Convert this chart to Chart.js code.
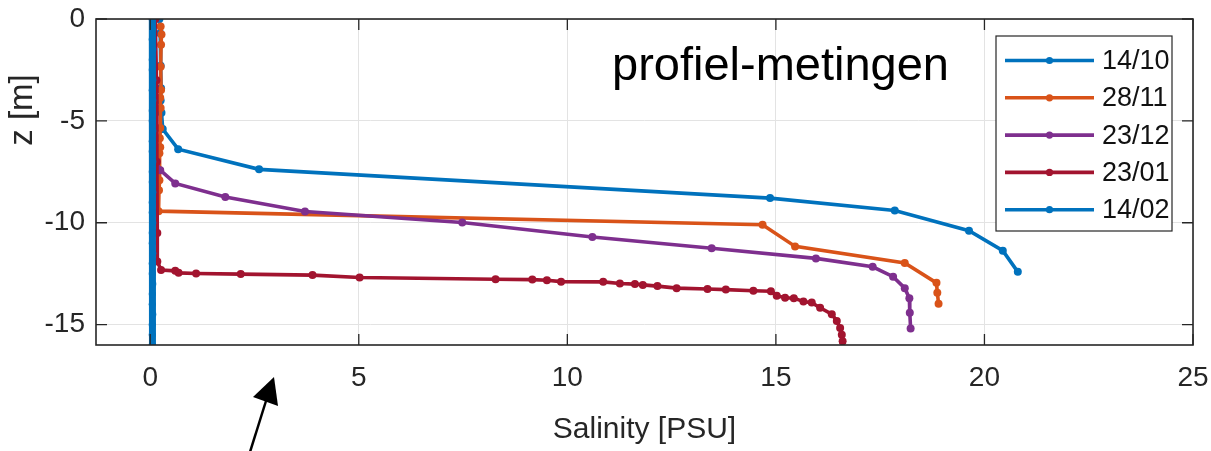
<!DOCTYPE html>
<html>
<head>
<meta charset="utf-8">
<title>Salinity profiles</title>
<script src="https://cdn.jsdelivr.net/npm/chart.js@4.4.1/dist/chart.umd.min.js"></script>
<style>
    html, body { margin: 0; padding: 0; background: #fff; }
    #wrap { width: 1211px; height: 451px; }
</style>
</head>
<body>
<div id="wrap"><canvas id="salinityChart" width="1211" height="451"></canvas></div>
<script>
/* ============================
   Salinity profiles (profiel-metingen)
   ============================ */

// ==================== DATA ====================
const seriesLabels = ['14/10', '28/11', '23/12', '23/01', '14/02'];
const seriesColors = ['#0072BD', '#D95319', '#7E2F8E', '#A2142F', '#0072BD'];

// 14/10
const salinity1410 = [0.22, 0.24, 0.25, 0.26, 0.25, 0.27, 0.30, 0.67, 2.61, 14.86, 17.85, 19.63, 20.44, 20.80];
const depth1410 = [0, -0.7, -2.3, -3.4, -4.0, -4.6, -5.4, -6.39, -7.38, -8.79, -9.40, -10.39, -11.37, -12.41];

// 28/11
const salinity2811 = [0.25, 0.27, 0.26, 0.25, 0.26, 0.24, 0.25, 0.24, 0.23, 0.24, 0.22, 0.23, 0.22, 0.21, 0.20,
    14.68, 15.46, 18.09, 18.85, 18.87, 18.90];
const depth2811 = [-0.37, -0.76, -1.26, -2.34, -3.48, -3.87, -4.37, -5.35, -5.85, -6.29, -6.59, -7.42, -7.92, -8.41, -9.43,
    -10.10, -11.16, -11.98, -12.95, -13.43, -13.97];

// 23/12
const salinity2312 = [0.06, 0.08, 0.24, 0.60, 1.80, 3.71, 7.48, 10.60, 13.46, 15.96, 17.32, 17.81, 18.09, 18.20, 18.21, 18.23];
const depth2312 = [0, -6.8, -7.42, -8.07, -8.74, -9.45, -9.99, -10.70, -11.25, -11.75, -12.16, -12.65, -13.21, -13.70, -14.42, -15.19];

// 23/01
const salinity2301 = [0.12, 0.15, 0.16, 0.17, 0.17, 0.26, 0.60, 0.68, 1.10, 2.17, 3.89, 5.02, 8.28, 9.16, 9.51, 9.85,
    10.86, 11.26, 11.62, 11.81, 12.16, 12.62, 13.36, 13.80, 14.46, 14.88, 15.02, 15.22, 15.43, 15.66, 15.86,
    16.06, 16.34, 16.46, 16.54, 16.58, 16.60];
const depth2301 = [0, -3.0, -7.0, -10.5, -11.9, -12.32, -12.36, -12.46, -12.49, -12.52, -12.57, -12.69, -12.77, -12.79, -12.82, -12.89,
    -12.90, -12.98, -13.01, -13.05, -13.11, -13.21, -13.25, -13.28, -13.34, -13.36, -13.58, -13.68, -13.70, -13.87, -13.92,
    -14.17, -14.49, -14.82, -15.16, -15.50, -15.82];

// 14/02
const salinity1402 = [0.05, 0.06, 0.05, 0.06, 0.05, 0.05, 0.06, 0.05, 0.06, 0.05, 0.05, 0.06, 0.05, 0.05, 0.06, 0.05,
    0.05, 0.06, 0.05, 0.05, 0.06, 0.05, 0.05, 0.06, 0.05, 0.05, 0.06, 0.05, 0.05, 0.06, 0.05, 0.05, 0.05];
const depth1402 = [0, -0.5, -1.0, -1.5, -2.0, -2.5, -3.0, -3.5, -4.0, -4.5, -5.0, -5.5, -6.0, -6.5, -7.0, -7.5,
    -8.0, -8.5, -9.0, -9.5, -10.0, -10.5, -11.0, -11.5, -12.0, -12.5, -13.0, -13.5, -14.0, -14.5, -15.0, -15.5, -16.0];

const xTicks = [0, 5, 10, 15, 20, 25];
const yTicks = [0, -5, -10, -15];
const xTitle = 'Salinity [PSU]';
const yTitle = 'z [m]';
const noteText = 'profiel-metingen';

// ==================== HELPERS ====================
const FONT = "'Liberation Sans', Arial, Helvetica, sans-serif";
const AXIS_COLOR = '#262626';
const NO_COLOR = 'rgba(0,0,0,0)';

function toPoints(xs, ys) {
    return xs.map((x, i) => ({ x: x, y: ys[i] }));
}

function makeDataset(idx, xs, ys, extra) {
    return Object.assign({
        label: seriesLabels[idx],
        data: toPoints(xs, ys),
        showLine: true,
        borderColor: seriesColors[idx],
        backgroundColor: seriesColors[idx],
        borderWidth: 3.6,
        pointRadius: 4,
        pointBorderWidth: 0,
        pointBackgroundColor: seriesColors[idx],
        tension: 0,
        order: 5 - idx
    }, extra || {});
}

// ==================== PLUGINS ====================
// frame + inward ticks on all four sides (matlab style box)
const frameTicksPlugin = {
    id: 'frameTicks',
    afterDatasetsDraw(chart) {
        const { ctx, chartArea: a, scales } = chart;
        const tl = 11;
        ctx.save();
        ctx.strokeStyle = AXIS_COLOR;
        ctx.lineWidth = 1.3;
        ctx.beginPath();
        xTicks.forEach(v => {
            const px = scales.x.getPixelForValue(v);
            ctx.moveTo(px, a.bottom); ctx.lineTo(px, a.bottom - tl);
            ctx.moveTo(px, a.top); ctx.lineTo(px, a.top + tl);
        });
        yTicks.forEach(v => {
            const py = scales.y.getPixelForValue(v);
            ctx.moveTo(a.left, py); ctx.lineTo(a.left + tl, py);
            ctx.moveTo(a.right, py); ctx.lineTo(a.right - tl, py);
        });
        ctx.stroke();
        ctx.lineWidth = 1.6;
        ctx.strokeRect(a.left, a.top, a.right - a.left, a.bottom - a.top);
        ctx.restore();
    }
};

// legend box, note text, y title and the arrow underneath
const overlayPlugin = {
    id: 'overlay',
    afterDraw(chart) {
        const { ctx, chartArea: a } = chart;
        ctx.save();

        // legend
        const boxW = 176, boxH = 195;
        const bx = a.right - 21 - boxW;
        const by = a.top + 17;
        ctx.fillStyle = '#fff';
        ctx.fillRect(bx, by, boxW, boxH);
        ctx.strokeStyle = AXIS_COLOR;
        ctx.lineWidth = 1.2;
        ctx.strokeRect(bx, by, boxW, boxH);
        ctx.font = '27px ' + FONT;
        ctx.textBaseline = 'middle';
        ctx.textAlign = 'left';
        seriesLabels.forEach((lab, i) => {
            const cy = by + 24.5 + i * 37.3;
            ctx.strokeStyle = seriesColors[i];
            ctx.lineWidth = 3.6;
            ctx.beginPath();
            ctx.moveTo(bx + 9, cy);
            ctx.lineTo(bx + 98, cy);
            ctx.stroke();
            ctx.fillStyle = seriesColors[i];
            ctx.beginPath();
            ctx.arc(bx + 53.5, cy, 3.6, 0, Math.PI * 2);
            ctx.fill();
            ctx.fillStyle = '#111';
            ctx.fillText(lab, bx + 106, cy + 1);
        });

        // note inside the axes
        ctx.font = '47px ' + FONT;
        ctx.fillStyle = '#000';
        ctx.textBaseline = 'alphabetic';
        ctx.fillText(noteText, 612, 80);

        // y title (sits above centre in the original)
        ctx.save();
        ctx.translate(23, 110);
        ctx.rotate(-Math.PI / 2);
        ctx.font = '33px ' + FONT;
        ctx.fillStyle = AXIS_COLOR;
        ctx.textAlign = 'center';
        ctx.textBaseline = 'middle';
        ctx.fillText(yTitle, 0, 0);
        ctx.restore();

        // arrow below the axis
        ctx.strokeStyle = '#000';
        ctx.fillStyle = '#000';
        ctx.lineWidth = 2.5;
        ctx.beginPath();
        ctx.moveTo(250, 452);
        ctx.lineTo(266, 401);
        ctx.stroke();
        ctx.beginPath();
        ctx.moveTo(274, 377);
        ctx.lineTo(253, 397);
        ctx.lineTo(278, 406);
        ctx.closePath();
        ctx.fill();

        ctx.restore();
    }
};

// ==================== CHART ====================
Chart.defaults.font.family = FONT;
Chart.defaults.color = AXIS_COLOR;

const ctx = document.getElementById('salinityChart').getContext('2d');

const salinityChart = new Chart(ctx, {
    type: 'scatter',
    data: {
        datasets: [
            makeDataset(0, salinity1410, depth1410),
            makeDataset(1, salinity2811, depth2811),
            makeDataset(2, salinity2312, depth2312),
            makeDataset(3, salinity2301, depth2301),
            makeDataset(4, salinity1402, depth1402, { borderWidth: 7, pointRadius: 3.6 })
        ]
    },
    options: {
        responsive: false,
        animation: false,
        devicePixelRatio: 1,
        layout: { padding: { top: 19, right: 18, left: 0, bottom: 0 } },
        plugins: {
            legend: { display: false },
            tooltip: { enabled: false }
        },
        scales: {
            x: {
                type: 'linear',
                min: -1.3,
                max: 25,
                afterBuildTicks: scale => { scale.ticks = xTicks.map(v => ({ value: v })); },
                afterFit: scale => { scale.height = 106; },
                // transparent tick marks only push the labels down
                grid: { color: '#e3e3e3', lineWidth: 1, drawTicks: true, tickLength: 16, tickColor: NO_COLOR },
                border: { display: false },
                ticks: { color: AXIS_COLOR, font: { size: 28 }, padding: 0, maxRotation: 0 },
                title: { display: true, text: xTitle, color: AXIS_COLOR, font: { size: 30 }, padding: { top: 0, bottom: 3 } }
            },
            y: {
                type: 'linear',
                min: -16,
                max: 0,
                afterBuildTicks: scale => { scale.ticks = yTicks.map(v => ({ value: v })); },
                afterFit: scale => { scale.width = 96; },
                grid: { color: '#e3e3e3', lineWidth: 1, drawTicks: true, tickLength: 11, tickColor: NO_COLOR },
                border: { display: false },
                ticks: { color: AXIS_COLOR, font: { size: 28 }, padding: 0 }
            }
        }
    },
    plugins: [frameTicksPlugin, overlayPlugin]
});
</script>
</body>
</html>
